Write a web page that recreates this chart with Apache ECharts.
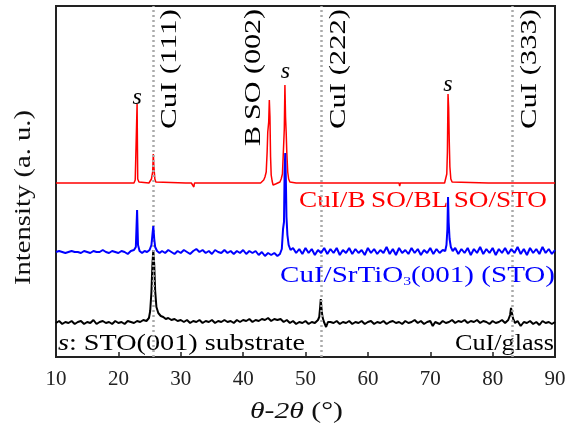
<!DOCTYPE html>
<html><head><meta charset="utf-8">
<script src="https://cdn.jsdelivr.net/npm/echarts@6/dist/echarts.min.js"></script>
<style>html,body{margin:0;padding:0;background:#fff}#c{width:569px;height:432px}</style>
</head><body><div id="c"></div>
<script>
// ---- data (2θ in degrees, intensity in arbitrary offset units) ----
const redData = [[10,174],[14,174],[14.2,175],[14.4,174],[18.9,174],[19.0,176],[19.1,174],[20.9,174],[21.0,172],[21.1,174],[21.6,174],[21.8,176],[21.9,174],[22.5,174],[22.7,177],[22.9,178],[23.0,253],[23.1,178],[23.3,175],[23.5,174],[24.9,174],[25.1,176],[25.3,178],[25.5,185],[25.6,203],[25.7,190],[25.85,178],[26.0,175],[26.2,174],[30.8,174],[30.9,176],[31.0,174],[31.7,174],[31.8,172],[32.0,172],[32.1,170],[32.2,174],[35,174],[37.8,174],[37.9,176],[38.0,174],[39.3,174],[39.4,176],[39.5,174],[41.5,174],[41.6,172],[41.8,175],[42.0,174],[42.8,174],[43.0,176],[43.3,177],[43.5,180],[43.7,185],[43.85,205],[43.95,225],[44.1,235],[44.2,257],[44.3,240],[44.4,200],[44.5,182],[44.65,176],[44.8,172],[45.0,171],[45.2,173],[45.5,174],[45.9,175],[46.1,178],[46.3,183],[46.45,205],[46.6,228],[46.7,272],[46.8,240],[46.9,225],[47.0,205],[47.15,185],[47.3,178],[47.5,175],[47.8,174],[48.5,174],[48.6,176],[48.7,174],[50.6,174],[50.7,175],[50.8,174],[55,174],[58.6,174],[58.7,176],[58.8,174],[62,174],[65.0,174],[65.1,171],[65.2,174],[66.8,174],[66.9,176],[67.0,174],[68.6,174],[68.7,172],[68.8,174],[72.3,174],[72.5,176],[72.65,183],[72.75,205],[72.85,263],[72.95,249],[73.05,215],[73.15,190],[73.3,178],[73.5,175],[73.7,174],[79.3,174],[79.4,176],[79.5,174],[85.1,174],[85.2,176],[85.3,174],[90,174]];

const blueData = [[10,105],[10.5,106],[11,105],[11.5,104],[12,105],[12.5,106],[13,105],[13.5,105],[14,104],[14.5,106],[15,105],[15.5,104],[16,106],[16.5,105],[17,105],[17.5,107],[18,105],[18.5,104],[19,106],[19.5,105],[20,104],[20.5,106],[21,105],[21.5,103],[22,106],[22.5,107],[22.8,110],[23.0,147],[23.15,112],[23.4,106],[23.8,104],[24.2,106],[24.6,105],[25.0,107],[25.3,112],[25.5,125],[25.6,131],[25.75,118],[25.9,110],[26.2,106],[26.6,104],[27,106],[27.5,104],[28,107],[28.5,105],[29,103],[29.5,106],[30,104],[30.5,107],[31,105],[31.5,103],[32,106],[32.5,108],[33,105],[33.5,107],[34,104],[34.5,106],[35,103],[35.5,107],[36,105],[36.5,104],[37,107],[37.5,104],[38,106],[38.5,103],[39,106],[39.5,104],[40,107],[40.5,103],[41,106],[41.5,104],[42,106],[42.5,102],[43,105],[43.5,101],[44,104],[44.5,102],[45,104],[45.5,101],[45.9,103],[46.2,108],[46.4,128],[46.55,135],[46.65,185],[46.75,204],[46.85,178],[46.95,140],[47.1,122],[47.3,112],[47.6,107],[48,109],[48.5,104],[49,108],[49.5,103],[50,109],[50.5,104],[51,108],[51.5,102],[52,107],[52.5,104],[53,109],[53.5,103],[54,108],[54.5,104],[55,109],[55.5,102],[56,107],[56.5,104],[57,109],[57.5,103],[58,108],[58.5,104],[59,107],[59.5,102],[60,109],[60.5,104],[61,108],[61.5,103],[62,107],[62.5,104],[63,110],[63.5,103],[64,108],[64.5,102],[65,109],[65.5,104],[66,107],[66.5,103],[67,109],[67.5,104],[68,108],[68.5,102],[69,107],[69.5,104],[70,109],[70.5,103],[71,108],[71.5,104],[72,107],[72.4,106],[72.6,112],[72.75,128],[72.85,160],[72.95,135],[73.1,118],[73.3,110],[73.6,106],[74,109],[74.5,103],[75,108],[75.5,104],[76,109],[76.5,102],[77,108],[77.5,104],[78,110],[78.5,103],[79,108],[79.5,104],[80,109],[80.5,102],[81,108],[81.5,104],[82,109],[82.5,103],[83,108],[83.5,104],[84,110],[84.5,103],[85,108],[85.5,102],[86,109],[86.5,104],[87,108],[87.5,103],[88,110],[88.5,104],[89,108],[89.5,103],[90,107]];

const blackData = [[10,34],[10.5,36],[11,33],[11.5,35],[12,34],[12.5,36],[13,33],[13.5,35],[14,36],[14.5,33],[15,35],[15.5,34],[16,37],[16.5,33],[17,35],[17.5,36],[18,34],[18.5,35],[19,33],[19.5,36],[20,34],[20.5,35],[21,33],[21.5,36],[22,35],[22.5,34],[23,36],[23.5,35],[24,37],[24.5,36],[24.9,39],[25.1,46],[25.3,65],[25.45,92],[25.6,107],[25.75,92],[25.9,66],[26.1,50],[26.4,44],[26.8,41],[27.2,40],[27.6,38],[28,39],[28.5,37],[29,38],[29.5,36],[30,37],[30.5,35],[31,37],[31.5,34],[32,36],[32.5,35],[33,37],[33.5,34],[34,36],[34.5,35],[35,37],[35.5,34],[36,36],[36.5,35],[37,37],[37.5,35],[38,36],[38.5,34],[39,37],[39.5,35],[40,37],[40.5,36],[41,38],[41.5,35],[42,37],[42.5,36],[43,38],[43.5,37],[44,39],[44.5,36],[45,38],[45.5,37],[46,38],[46.5,35],[47,37],[47.5,34],[48,36],[48.5,33],[49,35],[49.5,34],[50,36],[50.5,33],[51,35],[51.5,34],[52,37],[52.2,40],[52.35,50],[52.45,58],[52.55,50],[52.7,41],[52.9,36],[53.3,30],[53.6,35],[54,35],[54.5,34],[55,36],[55.5,33],[56,35],[56.5,34],[57,36],[57.5,33],[58,35],[58.5,34],[59,36],[59.5,33],[60,35],[60.5,36],[61,33],[61.5,35],[62,34],[62.5,36],[63,33],[63.5,35],[64,36],[64.5,34],[65,35],[65.5,33],[66,36],[66.5,34],[67,35],[67.5,37],[68,34],[68.5,36],[69,33],[69.5,35],[70,36],[70.4,31],[70.8,35],[71.5,33],[72,36],[72.5,34],[73,35],[73.5,37],[74,34],[74.5,36],[75,35],[75.5,37],[76,34],[76.5,36],[77,35],[77.5,37],[78,34],[78.5,36],[79,35],[79.5,33],[80,36],[80.5,34],[81,35],[81.5,37],[82,34],[82.5,37],[82.8,42],[82.95,49],[83.1,44],[83.3,38],[83.6,34],[84,36],[84.5,31],[85,35],[85.5,34],[86,36],[86.5,33],[87,35],[87.5,32],[88,36],[88.5,34],[89,35],[89.5,33],[90,35]];

const cuiLines = [25.65, 52.6, 83.15];
const peakLabelTexts = ['CuI (111)', 'B\u2009SO (002)', 'CuI (222)', 'CuI (333)'];
const peakLabelAngles = [28.3, 41.7, 55.4, 86.0];
const substratePeaks = [[23.0, 259], [46.8, 285], [72.85, 272]];
const seriesNames = ['CuI/B\u2009SO/BL\u2009SO/STO', 'CuI/SrTiO', 'CuI/glass'];

// ---- chart ----
const FONT = '"Liberation Serif", "Times New Roman", serif';
const chart = echarts.init(document.getElementById('c'));
const cv = document.createElement('canvas').getContext('2d');
function tw(t, size, italic) { cv.font = (italic ? 'italic ' : '') + size + 'px "Liberation Serif"'; return cv.measureText(t).width; }

chart.setOption({
  animation: false,
  grid: { left: 56, right: 14, top: 6, bottom: 75, show: true, borderColor: '#222', borderWidth: 2, backgroundColor: 'transparent' },
  xAxis: {
    type: 'value', min: 10, max: 90, interval: 10,
    axisLine: { show: true, lineStyle: { color: '#222', width: 2 } },
    axisTick: { show: true, inside: true, length: 5, lineStyle: { color: '#222', width: 1.5 } },
    axisLabel: { fontFamily: FONT, fontSize: 21, color: '#222', margin: 12 },
    splitLine: { show: false }
  },
  yAxis: { type: 'value', min: 0, max: 351, show: false, splitLine: { show: false } },
  series: [
    { type: 'line', data: [], silent: true, z: 1,
      markLine: { silent: true, symbol: 'none', label: { show: false },
        lineStyle: { type: [2, 3], color: '#aaa', width: 2.5 },
        data: cuiLines.map(v => ({ xAxis: v })) } },
    { name: 'glass', type: 'line', data: blackData, showSymbol: false, symbol: 'none', lineStyle: { color: '#000', width: 2 }, z: 3 },
    { name: 'bso', type: 'line', data: redData, showSymbol: false, symbol: 'none', lineStyle: { color: '#ff0000', width: 1.5 }, z: 4 },
    { name: 'sto', type: 'line', data: blueData, showSymbol: false, symbol: 'none', lineStyle: { color: '#0000ff', width: 2 }, z: 5 }
  ]
});

function px(x, y) { return chart.convertToPixel({ gridIndex: 0 }, [x, y]); }
const G = [];
const FS = 24;
// horizontal text helper: parts [[text, italic, size, dy]]
function hText(richStr, rich, width, x0, yc, color, z) {
  return { type: 'text', x: x0, y: yc, scaleX: 1, z: z, style: { text: richStr, rich: rich, fill: color, align: 'left', verticalAlign: 'middle', fontFamily: FONT, fontSize: FS } };
}
// red label
(function(){
  const t = seriesNames[0];
  const s = 248 / tw(t, FS);
  G.push({ type: 'text', x: 299, y: 201, scaleX: s, z: 1, style: { text: t, fill: '#ff0000', fontFamily: FONT, fontSize: FS, align: 'left', verticalAlign: 'middle' } });
})();
// blue label with subscript
(function(){
  const a = seriesNames[1], b = '3', c = '(001) (STO)';
  const wsum = tw(a, FS) + tw(b, 13) + tw(c, FS);
  const s = 275 / wsum;
  G.push({ type: 'text', x: 280, y: 276, scaleX: s, z: 1, style: {
    text: '{a|' + a + '}{b|' + b + '}{a|' + c + '}',
    rich: { a: { fontFamily: FONT, fontSize: FS, fill: '#0000ff' }, b: { fontFamily: FONT, fontSize: 13, fill: '#0000ff', verticalAlign: 'bottom', padding: [10, 0, 0, 0] } },
    align: 'left', verticalAlign: 'middle' } });
})();
// black labels
(function(){
  const wsum = tw('s', FS, true) + tw(': STO(001) substrate', FS);
  G.push({ type: 'text', x: 58, y: 344, scaleX: 247 / wsum, z: 1, style: {
    text: '{i|s}{a|: STO(001) substrate}',
    rich: { i: { fontFamily: FONT, fontSize: FS, fontStyle: 'italic', fill: '#000' }, a: { fontFamily: FONT, fontSize: FS, fill: '#000' } },
    align: 'left', verticalAlign: 'middle' } });
  const t = seriesNames[2];
  G.push({ type: 'text', x: 554, y: 344, scaleX: 99 / tw(t, FS), z: 1, style: { text: t, fill: '#000', fontFamily: FONT, fontSize: FS, align: 'right', verticalAlign: 'middle' } });
})();
// rotated peak labels
peakLabelTexts.forEach((t, i) => {
  const p = px(peakLabelAngles[i], 0);
  const bottom = i === 1 ? 146 : 129;
  const len = bottom - 9;
  G.push({ type: 'text', x: p[0], y: bottom, rotation: Math.PI / 2, scaleX: len / tw(t, FS), z: 1, style: { text: t, fill: '#000', fontFamily: FONT, fontSize: FS, align: 'left', verticalAlign: 'middle' } });
});
// substrate markers
substratePeaks.forEach(sp => {
  const p = px(sp[0], sp[1]);
  G.push({ type: 'text', x: p[0], y: p[1], z: 1, style: { text: 's', fill: '#000', fontFamily: FONT, fontSize: FS, fontStyle: 'italic', align: 'center', verticalAlign: 'middle' } });
});
// axis titles
(function(){
  const t1 = '\u03b8-2\u03b8', t2 = ' (\u00b0)';
  const wsum = tw(t1, FS, true) + tw(t2, FS);
  G.push({ type: 'text', x: 250, y: 412, scaleX: 93 / wsum, z: 1, style: {
    text: '{i|' + t1 + '}{a|' + t2 + '}',
    rich: { i: { fontFamily: FONT, fontSize: FS, fontStyle: 'italic', fill: '#111' }, a: { fontFamily: FONT, fontSize: FS, fill: '#111' } },
    align: 'left', verticalAlign: 'middle' } });
  const ty = 'Intensity (a. u.)';
  G.push({ type: 'text', x: 24, y: 285, rotation: Math.PI / 2, scaleX: 175 / tw(ty, FS), z: 1, style: { text: ty, fill: '#111', fontFamily: FONT, fontSize: FS, align: 'left', verticalAlign: 'middle' } });
})();
chart.setOption({ graphic: G });
</script>
</body></html>
